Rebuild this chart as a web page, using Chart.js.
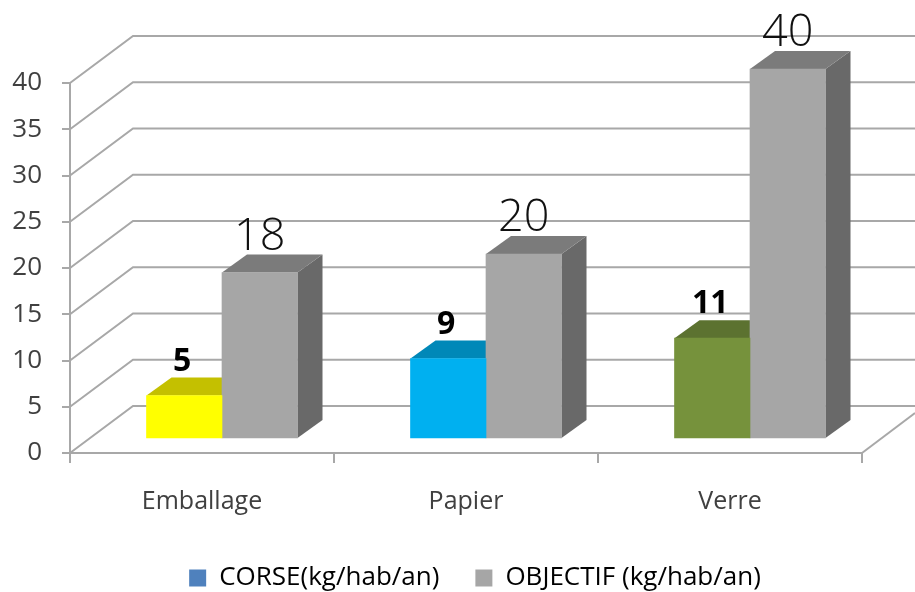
<!DOCTYPE html>
<html>
<head>
<meta charset="utf-8">
<style>
  html, body { margin: 0; background: #fff; }
  canvas { display: block; filter: blur(0.5px); }
</style>
<script src="https://cdn.jsdelivr.net/npm/chart.js@4"></script>
</head>
<body>
<canvas id="chart" width="915" height="592"></canvas>
<script>
const categories = ['Emballage', 'Papier', 'Verre'];
const corseValues = [4.7, 8.7, 10.9];
const objectifValues = [18, 20, 40];
const corseLabels = ['5', '9', '11'];
const objectifLabels = ['18', '20', '40'];
const corseColors = ['#ffff00', '#00b0f0', '#76923c'];
const corseTopColors = ['#c4c000', '#0088b8', '#5c7230'];
const lineColor = '#a8a8a8';

// offset of the back wall, of the bars on the floor, and of the bar depth
const wall = { x: 63, y: -47 };
const floor = { x: 20, y: -14 };
const depth = { x: 25, y: -18 };

function poly(ctx, pts, color) {
  ctx.fillStyle = color;
  ctx.beginPath();
  pts.forEach((p, i) => i ? ctx.lineTo(p[0], p[1]) : ctx.moveTo(p[0], p[1]));
  ctx.closePath();
  ctx.fill();
}

function barFaces(ctx, bar, topColor, sideColor) {
  const l = bar.x - bar.width / 2 + floor.x, r = bar.x + bar.width / 2 + floor.x;
  const t = bar.y + floor.y, b = bar.base + floor.y;
  poly(ctx, [[r, t], [r + depth.x, t + depth.y], [r + depth.x, b + depth.y], [r, b]], sideColor);
  poly(ctx, [[l, t], [l + depth.x, t + depth.y], [r + depth.x, t + depth.y], [r, t]], topColor);
}

const fake3d = {
  id: 'fake3d',
  afterLayout(chart) {
    // legend sits a little lower and right of where the layout puts it
    const lg = chart.legend;
    lg.left += 44; lg.right += 44;
    lg.top += 9; lg.bottom += 9;
  },
  beforeDatasetsDraw(chart) {
    const { ctx, scales: { x, y } } = chart;
    const left = x.left, right = x.right;
    ctx.save();
    ctx.strokeStyle = lineColor;
    ctx.lineWidth = 2;
    y.ticks.forEach(t => {
      const py = y.getPixelForValue(t.value);
      ctx.beginPath();
      ctx.moveTo(left, py);
      ctx.lineTo(left + wall.x, py + wall.y);
      ctx.lineTo(915, py + wall.y);
      ctx.stroke();
    });
    const py0 = y.getPixelForValue(0);
    ctx.beginPath();
    ctx.moveTo(right, py0);
    ctx.lineTo(right + 53, py0 - 40);
    ctx.stroke();
    ctx.restore();

    const corse = chart.getDatasetMeta(0).data, obj = chart.getDatasetMeta(1).data;
    corse.forEach((bar, i) => barFaces(ctx, bar, corseTopColors[i], '#5a5a5a'));
    obj.forEach(bar => barFaces(ctx, bar, '#7b7b7b', '#696969'));

    ctx.save();
    ctx.translate(floor.x, floor.y);
  },
  afterDatasetsDraw(chart) {
    const { ctx } = chart;
    ctx.restore();
    ctx.save();
    ctx.textAlign = 'center';
    ctx.textBaseline = 'alphabetic';
    ctx.fillStyle = '#000';
    ctx.font = 'bold 32px "Open Sans"';
    chart.getDatasetMeta(0).data.forEach((bar, i) => {
      ctx.fillText(corseLabels[i], bar.x + floor.x - 2, bar.y + floor.y + depth.y - 7);
    });
    ctx.fillStyle = '#111';
    ctx.font = '300 45px "Open Sans"';
    chart.getDatasetMeta(1).data.forEach((bar, i) => {
      ctx.fillText(objectifLabels[i], bar.x + floor.x, bar.y + floor.y + depth.y - 5);
    });
    ctx.restore();
  }
};

new Chart(document.getElementById('chart'), {
  type: 'bar',
  data: {
    labels: categories,
    datasets: [
      { label: 'CORSE(kg/hab/an)', data: corseValues, backgroundColor: corseColors, clip: false },
      { label: 'OBJECTIF (kg/hab/an)', data: objectifValues, backgroundColor: '#a6a6a6', clip: false }
    ]
  },
  plugins: [fake3d],
  options: {
    responsive: false,
    animation: false,
    barThickness: 75.5,
    layout: { padding: { top: 83, right: 53, left: 0, bottom: 0 } },
    scales: {
      x: {
        afterFit: s => { s.height = 67; },
        grid: { drawOnChartArea: false, color: lineColor, lineWidth: 2, tickLength: 10, tickColor: lineColor },
        border: { color: lineColor, width: 2 },
        ticks: { padding: 24, color: '#404040', font: { family: 'Open Sans', size: 25 } }
      },
      y: {
        min: 0,
        max: 40,
        afterFit: s => { s.width = 70; },
        grid: { drawOnChartArea: false, color: lineColor, lineWidth: 2, tickLength: 8, tickColor: lineColor },
        border: { color: lineColor, width: 2 },
        ticks: { stepSize: 5, padding: 20, color: '#404040', font: { family: 'Open Sans', size: 26 } }
      }
    },
    plugins: {
      tooltip: { enabled: false },
      legend: {
        position: 'bottom',
        labels: {
          boxWidth: 17,
          boxHeight: 17,
          padding: 36,
          color: '#404040',
          font: { family: 'Open Sans', size: 26 },
          generateLabels: chart => chart.data.datasets.map((d, i) => ({
            text: d.label,
            fillStyle: i === 0 ? '#4f81bd' : '#a6a6a6',
            strokeStyle: 'transparent',
            lineWidth: 0,
            datasetIndex: i
          }))
        }
      }
    }
  }
});
</script>
</body>
</html>
